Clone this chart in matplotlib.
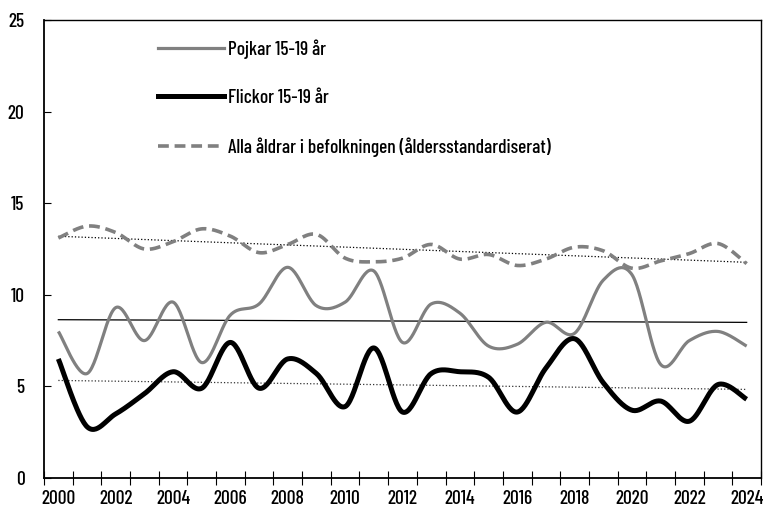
import numpy as np
import matplotlib
matplotlib.use("Agg")
import matplotlib.pyplot as plt
from matplotlib.lines import Line2D

plt.rcParams['font.family'] = ['Barlow Condensed', 'Archivo Narrow', 'DejaVu Sans']
plt.rcParams['font.weight'] = 500

years = list(range(2000, 2025))

# Pojkar 15-19 år
pojkar = [8.0, 5.7, 9.3, 7.5, 9.6, 6.3, 8.9, 9.5, 11.5, 9.4, 9.6, 11.3, 7.4,
          9.5, 9.0, 7.2, 7.3, 8.5, 7.9, 10.8, 11.1, 6.2, 7.5, 8.0, 7.2]
# Flickor 15-19 år
flickor = [6.5, 2.8, 3.5, 4.6, 5.8, 4.9, 7.4, 4.9, 6.5, 5.7, 3.9, 7.1, 3.6,
           5.7, 5.8, 5.5, 3.6, 6.0, 7.6, 5.2, 3.7, 4.2, 3.1, 5.1, 4.3]
# Alla åldrar i befolkningen (åldersstandardiserat)
alla = [13.1, 13.75, 13.4, 12.5, 12.9, 13.6, 13.2, 12.3, 12.75, 13.3, 12.0, 11.8,
        12.0, 12.75, 11.95, 12.2, 11.6, 11.95, 12.6, 12.4, 11.45, 11.85, 12.25, 12.8, 11.7]

labels = ["Pojkar 15-19 år", "Flickor 15-19 år",
          "Alla åldrar i befolkningen (åldersstandardiserat)"]

GRAY = "#808080"
FS = 14


def smooth(x, y, n=30):
    # Excel-liknande utjämnad linje (Catmull-Rom via Bezier)
    x = np.asarray(x, float)
    y = np.asarray(y, float)
    px = np.concatenate(([x[0]], x, [x[-1]]))
    py = np.concatenate(([y[0]], y, [y[-1]]))
    xs, ys = [], []
    t = np.linspace(0, 1, n)
    for i in range(1, len(px) - 2):
        p0 = np.array([px[i], py[i]])
        p3 = np.array([px[i + 1], py[i + 1]])
        c1 = p0 + (p3 - np.array([px[i - 1], py[i - 1]])) / 6
        c2 = p3 - (np.array([px[i + 2], py[i + 2]]) - p0) / 6
        b = ((1 - t) ** 3)[:, None] * p0 + (3 * (1 - t) ** 2 * t)[:, None] * c1 \
            + (3 * (1 - t) * t ** 2)[:, None] * c2 + (t ** 3)[:, None] * p3
        xs.extend(b[:, 0])
        ys.extend(b[:, 1])
    return np.array(xs), np.array(ys)


fig = plt.figure(figsize=(7.64, 5.08), dpi=100)
ax = fig.add_axes([44 / 764, 30 / 508, 717 / 764, 458 / 508])

xi = np.arange(len(years))

# trendlinjer
for vals, ls, col in [(pojkar, "-", "black"), (flickor, ":", "#333333"), (alla, ":", "black")]:
    k, m = np.polyfit(xi, vals, 1)
    ax.plot(xi[[0, -1]], k * xi[[0, -1]] + m, ls=ls, color=col, lw=0.9, zorder=2)

sx, sy = smooth(xi, pojkar)
ax.plot(sx, sy, color=GRAY, lw=2.3, solid_capstyle="butt", zorder=3)
sx, sy = smooth(xi, flickor)
ax.plot(sx, sy, color="black", lw=3.6, solid_capstyle="butt", zorder=4)
sx, sy = smooth(xi, alla)
ax.plot(sx, sy, color=GRAY, lw=2.6, ls=(0, (3, 1.6)), zorder=3)

ax.set_xlim(-0.5, len(years) - 0.5)
ax.set_ylim(0, 25)
ax.set_yticks([0, 5, 10, 15, 20, 25])
ax.tick_params(axis="y", direction="in", length=5, pad=14, labelsize=FS)

ax.set_xticks(xi[::2])
ax.set_xticklabels([str(y) for y in years[::2]])
ax.set_xticks(np.arange(-0.5, len(years)), minor=True)
ax.tick_params(axis="x", which="major", length=0, pad=9, labelsize=FS)
ax.tick_params(axis="x", which="minor", direction="inout", length=10, width=0.8)

for s in ax.spines.values():
    s.set_linewidth(1.0)
ax.spines["left"].set_linewidth(1.3)
ax.spines["bottom"].set_linewidth(1.3)

handles = [Line2D([], [], color=GRAY, lw=2.3),
           Line2D([], [], color="black", lw=3.6),
           Line2D([], [], color=GRAY, lw=2.6, ls=(0, (3, 1.6)))]
ax.legend(handles, labels, loc="upper left", bbox_to_anchor=(0.134, 0.996),
          frameon=False, fontsize=FS, handlelength=3.4, handletextpad=0.22,
          labelspacing=1.55)

fig.savefig("out.png", dpi=100)
